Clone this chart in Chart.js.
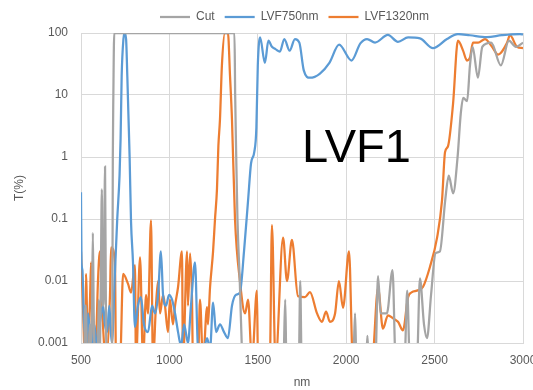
<!DOCTYPE html>
<html>
<head>
<meta charset="utf-8">
<script src="https://cdn.jsdelivr.net/npm/chart.js@4.4.1/dist/chart.umd.min.js"></script>
<style>
  html, body { margin: 0; padding: 0; background: #fff; }
</style>
</head>
<body>
<canvas id="lvfChart" width="533" height="390"></canvas>
<script>
// wavelength (nm) / transmission (%)
const cutNm = [500, 518, 522, 528, 533, 545, 550, 556, 562, 567, 572, 580, 595, 600, 606, 612, 618, 623, 630, 636, 641, 647, 672, 677, 680, 683, 688,
  1368, 1372, 1378, 1385, 1398, 1410, 1415, 1645, 1655, 1662, 1732, 1740, 1748, 2040, 2050, 2058, 2112, 2120, 2128, 2165, 2180, 2195, 2230, 2262,
  2280, 2330, 2345, 2360, 2400, 2417, 2440, 2457, 2480, 2505, 2530, 2560, 2580, 2605, 2630, 2648, 2662, 2684, 2700, 2715, 2745, 2770, 2820, 2875,
  2920, 2960, 3000];
const cutT = [0.0005, 0.0005, 0.003, 0.004, 0.0008, 0.0008, 0.002, 0.001, 0.003, 0.06, 0.003, 0.0005, 0.0005, 0.005, 0.0006, 0.01, 0.3, 0.004, 0.008, 0.7, 0.003, 0.0005, 0.0005, 0.002, 1, 10, 100,
  100, 10, 1, 0.1, 0.01, 0.0008, 0.0005, 0.0005, 0.005, 0.0005, 0.0005, 0.01, 0.0005, 0.0005, 0.003, 0.0005, 0.0005, 0.0013, 0.0005, 0.0005, 0.012, 0.003, 0.003, 0.015,
  0.0005, 0.0005, 0.007, 0.0005, 0.0005, 0.011, 0.002, 0.0012, 0.006, 0.028, 0.03, 0.2, 0.5, 0.26, 1, 5, 9, 8, 30, 60, 19, 60, 70, 30,
  75, 60, 70];

const lvf750Nm = [500, 503, 508, 515, 520, 525, 533, 540, 550, 560, 575, 590, 605, 615, 625, 635, 648, 660, 668, 675, 690, 705, 718, 724, 730, 740, 747,
  755, 762, 768, 775, 783, 794, 805, 822, 839, 856, 879, 902, 919, 936, 952, 964, 981, 998, 1015, 1032, 1049, 1066, 1083, 1105, 1122, 1145, 1162,
  1190, 1213, 1230, 1247, 1264, 1286, 1309, 1331, 1354, 1377, 1399, 1422, 1445, 1462, 1480, 1492, 1500, 1513, 1540, 1560, 1580, 1600, 1625, 1650,
  1680, 1710, 1735, 1760, 1795, 1850, 1905, 1960, 2030, 2080, 2118, 2163, 2236, 2293, 2350, 2417, 2491, 2570, 2632, 2700, 2796, 2880, 2983, 3000];
const lvf750T = [0.27, 0.02, 0.015, 0.003, 0.0015, 0.004, 0.0008, 0.003, 0.0015, 0.0007, 0.002, 0.0009, 0.002, 0.003, 0.004, 0.002, 0.0015, 0.004, 0.0016, 0.001, 0.01, 0.1, 0.5, 2, 20, 80, 100,
  80, 20, 5, 1, 0.09, 0.02, 0.0018, 0.004, 0.0055, 0.002, 0.0015, 0.004, 0.003, 0.006, 0.03, 0.006, 0.004, 0.006, 0.005, 0.003, 0.0015, 0.0009, 0.002, 0.001, 0.004, 0.02, 0.0008,
  0.0007, 0.0012, 0.0008, 0.0045, 0.0015, 0.002, 0.0015, 0.0012, 0.004, 0.006, 0.0065, 0.03, 0.2, 0.8, 1.2, 3, 30, 85, 33, 75, 60, 55, 50, 80,
  52, 80, 70, 25, 19, 22, 33, 65, 36, 68, 80, 70, 93, 72, 85, 82, 57, 80, 96, 92, 86, 92, 96, 95];

const lvf1320Nm = [500, 511, 523, 528, 540, 551, 557, 568, 585, 596, 607, 624, 641, 664, 670, 692, 698, 721, 738, 766, 783, 805, 811, 834, 851, 868, 879,
  896, 907, 924, 936, 947, 964, 975, 992, 1003, 1020, 1032, 1049, 1071, 1077, 1100, 1105, 1117, 1128, 1133, 1162, 1173, 1190, 1213, 1218, 1230, 1247,
  1258, 1269, 1277, 1286, 1297, 1314, 1331, 1343, 1354, 1371, 1399, 1428, 1445, 1467, 1495, 1501, 1568, 1580, 1600, 1643, 1665, 1693, 1727, 1767,
  1795, 1835, 1863, 1886, 1908, 1937, 1959, 1982, 2016, 2038, 2146, 2180, 2208, 2236, 2265, 2293, 2321, 2350, 2372, 2400, 2434, 2474, 2514, 2542,
  2559, 2576, 2604, 2632, 2661, 2683, 2700, 2717, 2746, 2785, 2825, 2859, 2910, 2926, 2966, 3000];
const lvf1320T = [0.03, 0.004, 0.0005, 0.013, 0.0007, 0.005, 0.02, 0.0005, 0.001, 0.01, 0.03, 0.002, 0.0005, 0.006, 0.035, 0.02, 0.0005, 0.0005, 0.013, 0.009, 0.0065, 0.018, 0.0005, 0.024, 0.0005, 0.006, 0.003,
  0.095, 0.0005, 0.004, 0.01, 0.003, 0.006, 0.004, 0.0015, 0.005, 0.002, 0.004, 0.008, 0.03, 0.0005, 0.03, 0.004, 0.028, 0.005, 0.0005, 0.0005, 0.005, 0.0005, 0.0038, 0.002, 0.008, 0.03,
  0.1, 0.3, 1.5, 4, 30, 100, 100, 20, 4, 0.1, 0.01, 0.003, 0.005, 0.0005, 0.007, 0.0005, 0.0005, 0.08, 0.0005, 0.05, 0.01, 0.046, 0.0057, 0.0055,
  0.0066, 0.003, 0.0022, 0.0032, 0.0022, 0.003, 0.01, 0.0037, 0.03, 0.0005, 0.0005, 0.0077, 0.0017, 0.0028, 0.0025, 0.0022, 0.0016, 0.0055, 0.0066, 0.007, 0.008, 0.017, 0.05, 0.2,
  1.2, 1.5, 7, 75, 52, 36, 40, 70, 70, 80, 60, 45, 70, 92, 60, 57];

const yTicks = [0.001, 0.01, 0.1, 1, 10, 100];

const toPoints = (xs, ys) => xs.map((x, i) => ({ x, y: ys[i] }));

const labelColor = '#595959';
const gridColor = '#d9d9d9';
const font = { family: '"Liberation Sans", Arial, sans-serif', size: 12 };

// big "LVF1" label inside the plot
const bigLabel = {
    id: 'bigLabel',
    afterDatasetsDraw(chart) {
        const ctx = chart.ctx;
        ctx.save();
        ctx.font = '47px "Liberation Sans", Arial, sans-serif';
        ctx.fillStyle = '#000';
        ctx.textBaseline = 'alphabetic';
        ctx.fillText('LVF1', 302, 162);
        ctx.restore();
    }
};

// shift the legend so it sits where Excel put it
const legendShift = {
    id: 'legendShift',
    afterLayout(chart) {
        chart.legend.left = 33;
        chart.legend.right = 556;
    }
};

const line = (label, xs, ys, color) => ({
    label,
    data: toPoints(xs, ys),
    borderColor: color,
    backgroundColor: color,
    borderWidth: 2.25,
    pointRadius: 0,
    cubicInterpolationMode: 'monotone',
    fill: false
});

new Chart(document.getElementById('lvfChart').getContext('2d'), {
    type: 'line',
    data: {
        datasets: [
            line('Cut', cutNm, cutT, '#a5a5a5'),
            line('LVF750nm', lvf750Nm, lvf750T, '#5b9bd5'),
            line('LVF1320nm', lvf1320Nm, lvf1320T, '#ed7d31')
        ]
    },
    options: {
        responsive: false,
        animation: false,
        layout: { padding: { top: 1, right: 10, bottom: 0, left: 0 } },
        plugins: {
            legend: {
                position: 'top',
                labels: {
                    usePointStyle: true,
                    pointStyle: 'line',
                    pointStyleWidth: 30,
                    color: labelColor,
                    font,
                    padding: 10
                }
            },
            tooltip: { enabled: false }
        },
        scales: {
            x: {
                type: 'linear',
                min: 500,
                max: 3000,
                ticks: { stepSize: 500, color: labelColor, font, padding: 10, maxRotation: 0, callback: v => String(v) },
                grid: { color: gridColor, drawTicks: false },
                border: { color: gridColor },
                title: { display: true, text: 'nm', color: labelColor, font, padding: { top: 0, bottom: 0 } },
                afterFit(scale) {
                    scale.height = 47;
                    scale.paddingLeft = 0;
                    scale.paddingRight = 0;
                }
            },
            y: {
                type: 'logarithmic',
                min: 0.001,
                max: 100,
                afterBuildTicks(scale) {
                    scale.ticks = yTicks.map(v => ({ value: v }));
                },
                ticks: { color: labelColor, font, padding: 13, callback: v => String(v) },
                grid: { color: gridColor, drawTicks: false },
                border: { color: gridColor },
                title: { display: true, text: 'T(%)', color: labelColor, font, padding: { top: 12, bottom: 0 } },
                afterFit(scale) {
                    scale.width = 81;
                    scale.paddingTop = 0;
                    scale.paddingBottom = 0;
                }
            }
        }
    },
    plugins: [bigLabel, legendShift]
});
</script>
</body>
</html>
